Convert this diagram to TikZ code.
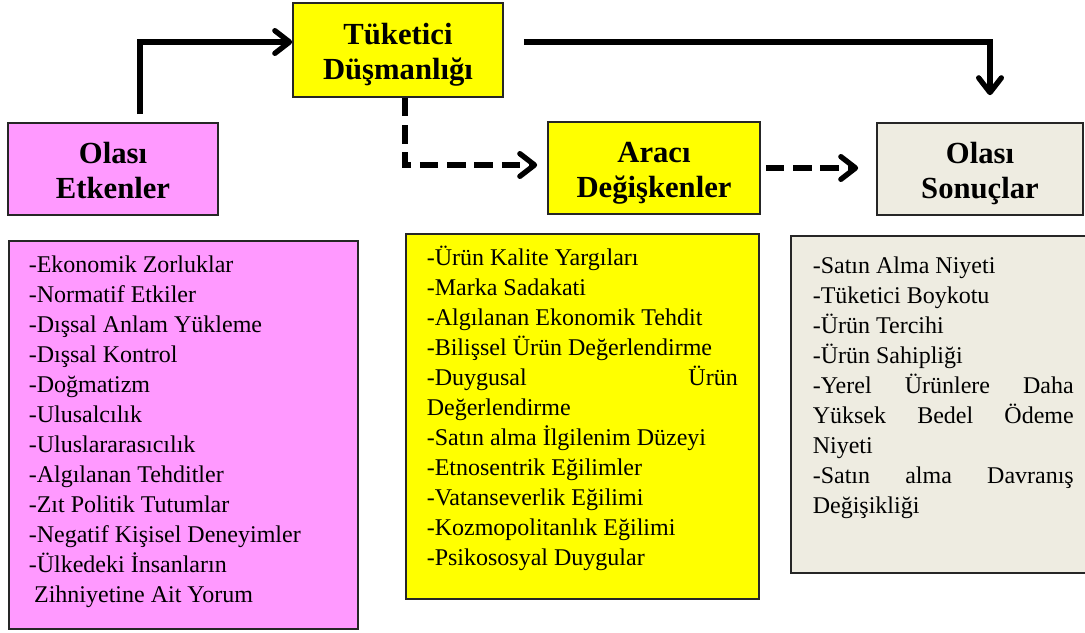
\documentclass[tikz,border=0pt]{standalone}
\usepackage{fontspec}
\setmainfont{Liberation Serif}
\usetikzlibrary{arrows.meta,calc}
\hyphenpenalty=10000
\exhyphenpenalty=10000

\definecolor{pembe}{RGB}{255,153,255}
\definecolor{sari}{RGB}{255,255,0}
\definecolor{bej}{RGB}{238,236,225}

\begin{document}
\begin{tikzpicture}[x=0.75pt, y=-0.75pt,
        kutu/.style={rectangle, draw=black!85, line width=1.2pt},
        baslik/.style={kutu, align=center, minimum width=157.5pt, minimum height=69pt, inner sep=0pt, text height=45pt, text depth=1.5pt, font=\bfseries\fontsize{23}{26}\selectfont},
        liste/.style={kutu, anchor=north west, align=justify, font=\fontsize{18}{22.5}\selectfont},
        ok/.style={line width=4pt, -{Straight Barb[round, length=11pt, width=17pt]}},
        kesik/.style={ok, dash pattern=on 14pt off 6.5pt}]
        \useasboundingbox (0,0) rectangle (1085,632);

        % ust kutular
        \node[baslik, fill=pembe] (etken) at (113,169) {Olası\\Etkenler};
        \node[baslik, fill=sari, minimum height=70.5pt] (tuketici) at (398,50) {Tüketici\\Düşmanlığı};
        \node[baslik, fill=sari, minimum width=159pt] (araci) at (654,168) {Aracı\\Değişkenler};
        \node[baslik, fill=bej, minimum width=154.5pt] (sonuc) at (980,169) {Olası\\Sonuçlar};

        % listeler
        \node[liste, fill=pembe, text width=231.75pt, inner xsep=15pt, inner ysep=8.25pt, text depth=258.75pt] (etkenler) at (8,240)
            {\strut-Ekonomik Zorluklar\\-Normatif Etkiler\\-Dışsal Anlam Yükleme\\-Dışsal Kontrol\\-Doğmatizm\\-Ulusalcılık\\-Uluslararasıcılık\\-Algılanan Tehditler\\-Zıt Politik Tutumlar\\-Negatif Kişisel Deneyimler\\-Ülkedeki İnsanların\\\hspace*{4pt}Zihniyetine Ait Yorum};
        \node[liste, fill=sari, text width=233.25pt, inner xsep=15.75pt, inner ysep=8.25pt, text depth=241.5pt] (degiskenler) at (405,233)
            {\strut-Ürün Kalite Yargıları\\-Marka Sadakati\\-Algılanan Ekonomik Tehdit\\-Bilişsel Ürün Değerlendirme\\-Duygusal Ürün\linebreak Değerlendirme\\-Satın alma İlgilenim Düzeyi\\-Etnosentrik Eğilimler\\-Vatanseverlik Eğilimi\\-Kozmopolitanlık Eğilimi\\-Psikososyal Duygular};
        \node[liste, fill=bej, text width=195.75pt, inner xsep=16.5pt, inner ysep=12.75pt, text depth=211.5pt] (sonuclar) at (790,235)
            {\strut-Satın Alma Niyeti\\-Tüketici Boykotu\\-Ürün Tercihi\\-Ürün Sahipliği\\-Yerel Ürünlere Daha\linebreak Yüksek Bedel Ödeme\linebreak Niyeti\\-Satın alma Davranış\linebreak Değişikliği};

        % oklar
        \draw[ok] ($(etken.north)+(27,-8)$) |- ($(tuketici.west)+(0,-8)$);
        \draw[ok] ($(tuketici.east)+(20,-8)$) -| ($(sonuc.north)+(10,-27)$);
        \draw[kesik] ($(tuketici.south)+(7,0)$) |- ($(araci.west)+(-10,-3)$);
        \draw[kesik] ($(araci.east)+(5,0)$) -- ($(araci.east -| sonuc.west)+(-18,0)$);
    \end{tikzpicture}
\end{document}
